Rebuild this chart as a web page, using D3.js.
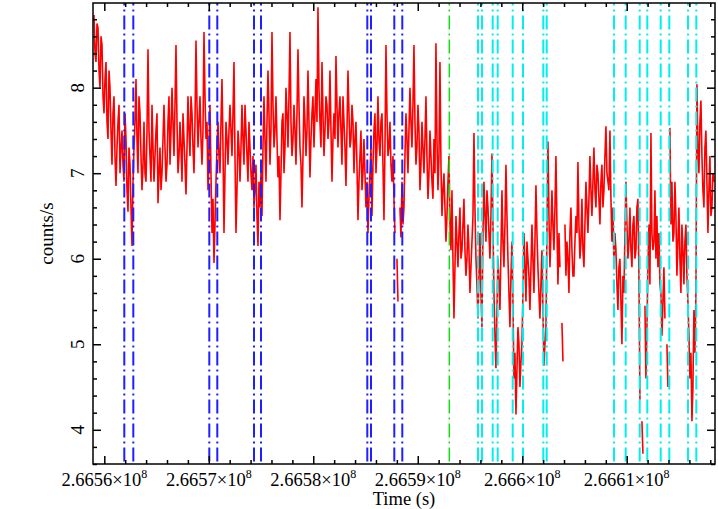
<!DOCTYPE html>
<html>
<head>
<meta charset="utf-8">
<script src="https://cdn.jsdelivr.net/npm/d3@7"></script>
<style>
  body { margin: 0; background: #fff; }
  text { font-family: "Liberation Serif", "DejaVu Serif", serif; fill: #000; }
</style>
</head>
<body>
<svg></svg>
<script>
const width = 718;
const height = 509;
const margin = {left: 93, right: 3, top: 3, bottom: 45};

// light curve, one bin every binSize seconds (null = gap)
const binStart = 266559014;
const binSize = 95.7;
const rates = [
  8.85, 8.4, 8.3, 8.75, 8.7, 8.2, 8.0, 8.6, 8.5, 7.9,
  7.7, 8.1, 8.3, 7.6, 7.4, 8.2, 8.0, 7.5, 7.1, 7.7,
  7.9, 7.2, 6.85, 7.3, 7.6, 7.8, 7.0, 7.3, 7.5, 7.1,
  6.9, 7.7, 7.4, 6.8, 6.55, 7.3, 7.1, 6.6, 6.15, 6.9,
  7.3, 7.6, 8.1, 7.4, 7.0, 7.9, 7.7, 7.2, 6.8, 7.1,
  7.6, 7.0, 6.9, 7.5, 8.45, 7.5, 7.2, 6.9, 7.8, 7.3,
  6.9, 7.2, 7.5, 7.7, 6.65, 7.0, 7.3, 6.8, 7.0, 7.4,
  7.8, 7.3, 6.9, 7.1, 7.6, 7.9, 7.1, 7.5, 8.0, 7.6,
  7.2, 7.8, 8.5, 7.6, 7.0, 7.2, 7.6, 7.3, 6.9, 7.7,
  7.4, 7.1, 6.75, 7.3, 7.9, 7.5, 7.2, 7.9, 7.7, 7.3,
  7.0, 7.6, 8.55, 7.8, 7.3, 7.6, 7.9, 7.4, 7.1, 7.5,
  8.65, 7.9, 7.4, 7.6, 6.8, 7.2, 7.8, 7.0, 6.3, 6.7,
  5.95, 6.4, 6.9, 7.3, 7.6, 7.2, 7.0, 7.6, 8.1, 7.3,
  6.3, 7.0, 7.6, 7.4, 7.1, 7.5, 7.8, 7.5, 7.2, 7.7,
  8.3, 7.2, 6.3, 6.8, 7.5, 7.3, 6.9, 7.3, 7.8, 7.4,
  7.1, 7.8, 7.5, 7.2, 6.9, 7.6, 7.3, 7.0, 6.8, 7.2,
  6.6, 6.8, 7.1, 6.5, 6.15, 6.9, 6.6, 7.0, 6.5, 7.3,
  7.9, 7.4, 6.9, 7.6, 8.2, 7.7, 7.1, 7.5, 8.65, 7.8,
  7.3, 7.5, 7.9, 7.4, 6.95, 7.2, 6.45, 7.0, 7.6, 7.7,
  7.0, 7.3, 8.0, 7.7, 7.3, 7.9, 8.65, 7.6, 7.2, 7.4,
  7.8, 7.5, 7.1, 7.7, 8.45, 7.8, 7.3, 7.1, 6.6, 7.2,
  7.9, 7.6, 7.2, 7.5, 8.2, 7.6, 6.95, 7.4, 7.7, 7.9,
  7.3, 7.7, 8.1, 7.6, 8.94, 8.0, 7.6, 7.3, 8.3, 7.7,
  7.2, 7.5, 7.9, 7.8, 7.4, 7.6, 8.2, 7.5, 6.9, 7.4,
  7.7, 7.4, 8.37, 7.8, 7.3, 7.7, 7.9, 7.5, 7.1, 7.9,
  7.6, 7.3, 6.85, 7.5, 8.2, 7.7, 7.3, 7.4, 7.8, 7.6,
  7.0, 7.4, 7.6, 7.1, 6.45, 6.9, 7.2, 7.5, 6.8, 7.0,
  7.4, 7.0, 6.6, 6.9, 6.3, 6.7, 7.0, 7.3, 6.5, 7.1,
  7.5, 7.7, 7.0, 7.3, 7.9, 7.4, 7.2, 7.6, 7.7, 7.1,
  6.45, 7.3, 8.5, 7.7, 7.2, 7.3, 7.6, 7.1, 6.9, 7.2,
  6.7, 6.3, null, 6.0, 5.5, null, 6.6, 6.25, 6.9, 6.4,
  6.6, 7.2, 7.7, 7.4, 7.0, 7.5, 8.0, 7.6, 7.3, 7.8,
  8.5, 7.6, 7.1, 7.3, 7.8, 7.5, 6.8, 7.1, 7.6, 7.3,
  7.0, 7.4, 7.9, 7.2, 6.7, 7.0, 7.5, 7.2, 6.9, 6.7,
  7.4, 7.0, 8.52, 7.4, 6.8, 7.2, 8.3, 7.1, 6.5, 6.8,
  7.0, 6.6, 6.2, 6.5, 6.9, 7.2, 6.4, 6.1, 6.8, 6.0,
  5.3, 5.9, 6.5, 6.2, 5.9, 6.3, 6.6, 6.0, 6.1, 6.4,
  6.7, 6.1, 5.8, 6.0, 6.4, 6.1, 5.6, 5.9, 6.2, 6.5,
  7.47, 6.6, 6.0, 5.7, 5.3, 5.8, 6.3, 5.6, 5.2, 6.3,
  6.9, 6.5, 6.2, 6.8, 6.6, 6.3, 6.0, 6.5, 7.23, 6.4,
  5.6, 5.1, 4.72, 5.4, 6.0, 5.7, 5.4, 6.1, 6.8, 6.2,
  5.9, 6.4, 7.1, 6.5, 6.0, 5.6, 5.2, 5.8, 6.2, 5.5,
  4.6, 4.9, 4.18, 4.7, 5.2, 5.0, 4.5, 4.8, 5.0, 5.6,
  6.3, 5.9, 5.5, 6.2, 6.0, 5.8, 5.4, 5.9, 6.4, 6.0,
  5.6, 6.2, 6.86, 6.3, 5.9, 5.6, 5.3, 5.7, 6.1, 5.4,
  4.75, 5.0, 5.2, 6.3, 7.37, 6.5, 5.9, 6.3, 6.8, 6.4,
  6.1, 6.6, 7.2, 6.4, 5.7, 6.3, 5.9, null, 5.25, 4.8,
  null, 6.4, 5.8, 6.2, 6.0, 5.6, 6.3, 6.6, 6.1, 5.8,
  5.8, 6.2, 6.5, 6.3, 7.13, 6.4, 6.0, 6.2, 6.7, 6.1,
  5.9, 6.4, 6.9, 6.6, 6.3, 6.7, 7.2, 6.8, 6.5, 6.9,
  7.3, 6.8, 6.6, 7.1, 7.0, 6.7, 6.4, 6.9, 7.1, 6.6,
  6.8, 7.2, 7.55, 7.0, 6.9, 6.8, 7.5, 6.7, 6.2, 6.6,
  5.9, 6.3, 6.1, 5.7, 5.4, 5.9, 6.0, 5.5, 5.0, 5.8,
  5.6, 6.3, 6.9, 6.4, 6.0, 6.2, 6.6, 6.1, 5.9, 6.4,
  6.5, 6.0, 6.1, 6.6, 6.7, 5.8, 4.35, null, 4.1, 3.72,
  null, 5.45, 4.6, 5.2, 5.9, 6.4, 5.7, 7.47, 6.3, 6.1,
  6.2, 6.8, 6.0, 6.5, 5.9, 6.3, 5.7, 5.6, 5.1, 5.5,
  5.9, 5.3, null, 5.0, 4.5, null, 7.53, 6.4, 6.9, 6.2,
  6.3, 6.9, 6.5, 5.8, 6.2, 6.6, 6.0, 5.6, 6.4, 6.1,
  5.7, 6.2, 6.4, 5.8, 5.5, 5.1, 4.6, 4.9, 4.1, 4.5,
  5.4, 4.9, 5.6, 8.04, 7.3, 7.0, 7.6, 7.85, 7.2, 6.8,
  6.6, 7.3, 7.5, 6.9, 6.3, 6.8, 7.2, 6.5, 6.6, 7.0,
  6.9
];

// marker times (s)
const blueTimes = [266561914, 266562776, 266570050, 266570815, 266574328, 266574998,
  266585172, 266585526, 266587756, 266588522];
const greenTimes = [266593021];
const cyanTimes = [266595767, 266596150, 266597174, 266597653, 266599089, 266600075,
  266602018, 266602343, 266608785, 266609904, 266611244, 266611972, 266613254,
  266614078, 266615867, 266616662];

const xMajorTicks = [266560000, 266570000, 266580000, 266590000, 266600000, 266610000];
const xTickLabels = ['2.6656', '2.6657', '2.6658', '2.6659', '2.666', '2.6661'];
const yMajorTicks = [4, 5, 6, 7, 8];
const yTickLabels = ['4', '5', '6', '7', '8'];

const data = rates.map((v, i) => ({t: binStart + i * binSize, v}));

const svg = d3.select('svg')
  .attr('width', width)
  .attr('height', height);

const x = d3.scaleLinear()
  .domain([266558918, 266618451])
  .range([margin.left, width - margin.right]);

const y = d3.scaleLinear()
  .domain([3.6, 8.99])
  .range([height - margin.bottom, margin.top]);

const x0 = margin.left, x1 = width - margin.right;
const y0 = margin.top, y1 = height - margin.bottom;

svg.append('clipPath').attr('id', 'clip')
  .append('rect')
  .attr('x', x0).attr('y', y0)
  .attr('width', x1 - x0).attr('height', y1 - y0);

const line = d3.line()
  .defined(d => d.v != null)
  .x(d => x(d.t))
  .y(d => y(d.v));

svg.append('path')
  .datum(data)
  .attr('clip-path', 'url(#clip)')
  .attr('fill', 'none')
  .attr('stroke', '#ff0000')
  .attr('stroke-width', 1.6)
  .attr('d', line);

function markers(times, color, w) {
  svg.append('g').selectAll('line')
    .data(times)
    .join('line')
    .attr('x1', d => x(d)).attr('x2', d => x(d))
    .attr('y1', y0).attr('y2', y1)
    .attr('stroke', color)
    .attr('stroke-width', w)
    .attr('stroke-dasharray', '14,4,2,4')
    .attr('stroke-dashoffset', 11.5);
}
markers(blueTimes, '#1f1fff', 2);
markers(greenTimes, '#11dd11', 1.5);
markers(cyanTimes, '#00efef', 2);

// minor tick values
const xMinor = d3.range(266560000 - 2000, 266618451, 2000)
  .filter(t => t > 266558918 && !xMajorTicks.includes(t));
const yMinor = d3.range(36, 90, 2).map(v => v / 10)
  .filter(v => !yMajorTicks.includes(v));

function ticks(axisFn, scale, values, size, transform) {
  const g = svg.append('g')
    .attr('transform', transform)
    .call(axisFn(scale).tickValues(values).tickSize(-size).tickFormat(''));
  g.select('.domain').remove();
  g.selectAll('line').attr('stroke', '#000').attr('stroke-width', 1.5);
}
ticks(d3.axisBottom, x, xMajorTicks, 8, `translate(0,${y1})`);
ticks(d3.axisBottom, x, xMinor, 4, `translate(0,${y1})`);
ticks(d3.axisTop, x, xMajorTicks, 8, `translate(0,${y0})`);
ticks(d3.axisTop, x, xMinor, 4, `translate(0,${y0})`);
ticks(d3.axisLeft, y, yMajorTicks, 8, `translate(${x0},0)`);
ticks(d3.axisLeft, y, yMinor, 4, `translate(${x0},0)`);
ticks(d3.axisRight, y, yMajorTicks, 8, `translate(${x1},0)`);
ticks(d3.axisRight, y, yMinor, 4, `translate(${x1},0)`);

svg.append('rect')
  .attr('x', x0).attr('y', y0)
  .attr('width', x1 - x0).attr('height', y1 - y0)
  .attr('fill', 'none')
  .attr('stroke', '#000')
  .attr('stroke-width', 1.5);

// x tick labels  m×10^8
const xl = svg.append('g').selectAll('text')
  .data(xMajorTicks)
  .join('text')
  .attr('x', d => x(d))
  .attr('y', 486)
  .attr('text-anchor', 'middle')
  .style('font-size', '18.5px');
xl.append('tspan').text((d, i) => xTickLabels[i] + '×10');
xl.append('tspan')
  .attr('dy', -8)
  .style('font-size', '12px')
  .text('8');

// y tick labels, rotated
svg.append('g').selectAll('text')
  .data(yMajorTicks)
  .join('text')
  .attr('transform', d => `translate(84,${y(d)}) rotate(-90)`)
  .attr('text-anchor', 'middle')
  .style('font-size', '19px')
  .text((d, i) => yTickLabels[i]);

svg.append('text')
  .attr('x', (x0 + x1) / 2)
  .attr('y', 505)
  .attr('text-anchor', 'middle')
  .style('font-size', '18.5px')
  .text('Time (s)');

svg.append('text')
  .attr('transform', `translate(53,${(y0 + y1) / 2}) rotate(-90)`)
  .attr('text-anchor', 'middle')
  .style('font-size', '19px')
  .text('counts/s');
</script>
</body>
</html>
